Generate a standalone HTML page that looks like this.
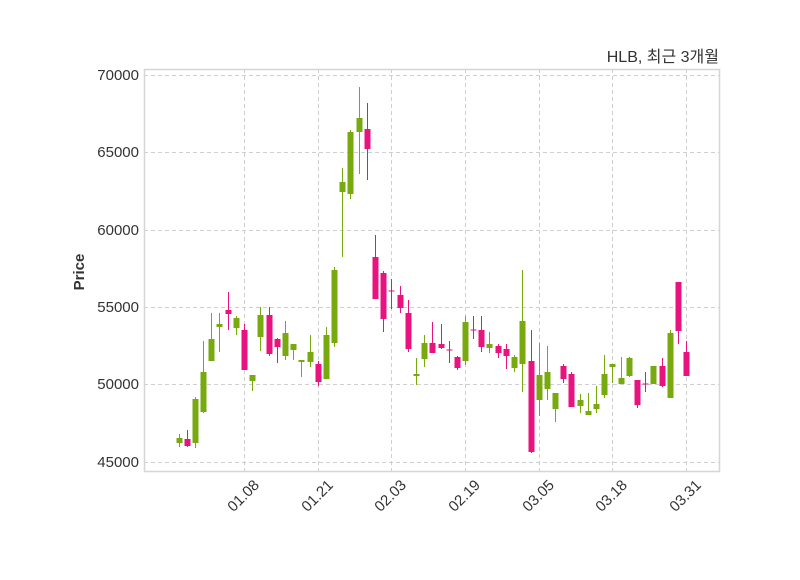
<!DOCTYPE html>
<html><head><meta charset="utf-8"><style>
body{margin:0;background:#fff;}
svg text{font-family:"Liberation Sans","Noto Sans CJK KR",sans-serif;}
</style></head><body>
<svg id="s" width="800" height="575" xmlns="http://www.w3.org/2000/svg">
<rect width="800" height="575" fill="#fff"/>
<g stroke="#cfcfcf" stroke-dasharray="4,3" stroke-width="1">
<line x1="144" x2="719" y1="75.5" y2="75.5"/><line x1="144" x2="719" y1="152.5" y2="152.5"/>
<line x1="144" x2="719" y1="230.5" y2="230.5"/><line x1="144" x2="719" y1="307.5" y2="307.5"/>
<line x1="144" x2="719" y1="384.5" y2="384.5"/><line x1="144" x2="719" y1="462.5" y2="462.5"/>
<line y1="69" y2="471" x1="244.5" x2="244.5"/><line y1="69" y2="471" x1="318.5" x2="318.5"/>
<line y1="69" y2="471" x1="391.5" x2="391.5"/><line y1="69" y2="471" x1="465.5" x2="465.5"/>
<line y1="69" y2="471" x1="539.5" x2="539.5"/><line y1="69" y2="471" x1="612.5" x2="612.5"/>
<line y1="69" y2="471" x1="686.5" x2="686.5"/>
</g>
<rect x="144.5" y="69.5" width="575" height="402" fill="none" stroke="#d6d6d6" stroke-width="1.5"/>
<g font-size="15" fill="#333" text-anchor="end">
<text x="139" y="80">70000</text><text x="139" y="157">65000</text><text x="139" y="235">60000</text>
<text x="139" y="312">55000</text><text x="139" y="389">50000</text><text x="139" y="467">45000</text>
</g>
<g font-size="15" fill="#333" text-anchor="end">
<text transform="translate(260,486) rotate(-45)">01.08</text>
<text transform="translate(334,486) rotate(-45)">01.21</text>
<text transform="translate(407,486) rotate(-45)">02.03</text>
<text transform="translate(481,486) rotate(-45)">02.19</text>
<text transform="translate(555,486) rotate(-45)">03.05</text>
<text transform="translate(628,486) rotate(-45)">03.18</text>
<text transform="translate(702,486) rotate(-45)">03.31</text>
</g>
<text x="719" y="62" font-size="16" fill="#333" text-anchor="end">HLB, 최근 3개월</text>
<text transform="translate(84,272) rotate(-90)" font-size="15" font-weight="bold" fill="#333" text-anchor="middle">Price</text>
<g id="c"></g>
</svg>
<script>
var d=[[179,'g',438,443,434,447],[187,'r',439,446,430,447],[195,'g',399,443,397,448],[203,'g',372,412,341,413],
[211,'g',339,361,313,361],[219,'g',324,327,313,352],[228,'r',310,314,292,330],[236,'g',318,328,316,335],
[244,'r',330,370,324,370],[252,'g',375,381,375,391],[260,'g',315,337,307,351],[269,'r',315,354,307,356],
[277,'r',339,347,338,363],[285,'g',333,356,321,360],[293,'g',344,350,344,360],[301,'g',360,362,360,377],
[310,'g',352,362,335,367],[318,'r',364,382,361,386],[326,'g',335,379,327,379],[334,'g',270,343,267,347],
[342,'g',182,192,168,257],[350,'g',132,194,130,199],[359,'g',118,132,87,174],[367,'r',129,149,103,180],
[375,'r',257,299,235,299],[383,'r',273,319,271,332],[391,'r',290.5,291.5,279,309],[400,'r',295,308,286,313],
[408,'r',313,349,300,352],[416,'g',374,376,358,385],[424,'g',343,359,335,367],[432,'r',343,353,322,353],
[441,'r',344,348,324,349],[449,'r',349.5,350.5,341,363],[457,'r',357,368,356,370],[465,'g',322,361,316,365],
[473,'r',329.5,330.5,316,339],[481,'r',330,347,316,352],[489,'g',344,348,332,353],[498,'r',346,353,344,358],
[506,'r',349,356,344,369],[514,'g',357,368,355,372],[522,'g',321,364,270,392],[531,'r',361,452,330,453],
[539,'g',375,400,343,416],[547,'g',372,389,346,400],[555,'g',393,409,393,422],[563,'r',366,379,364,383],
[571,'r',374,407,372,407],[580,'g',400,406,394,413],[588,'g',411,415,393,415],[596,'g',404,409,386,413],
[604,'g',374,395,355,398],[612,'g',364,367,364,383],[621,'g',378,384,357,384],[629,'g',358,376,357,377],
[637,'r',380,405,380,408],[645,'r',383.5,384.5,372,392],[653,'g',366,384,366,384],[662,'r',366,386,358,387],
[670,'g',333,398,330,398],[678,'r',282,331,282,344],[686,'r',352,376,341,376]];
var s='';d.forEach(function(c){var col=c[1]=='g'?'#78a90f':'#e8137f';
s+='<line x1="'+(c[0]+.5)+'" x2="'+(c[0]+.5)+'" y1="'+c[4]+'" y2="'+c[5]+'" stroke="'+col+'" stroke-width="1"/>';
s+='<rect x="'+(c[0]-2.5)+'" y="'+c[2]+'" width="6" height="'+Math.max(1,c[3]-c[2])+'" fill="'+col+'"/>';});
document.getElementById('c').innerHTML=s;
</script>
</body></html>
